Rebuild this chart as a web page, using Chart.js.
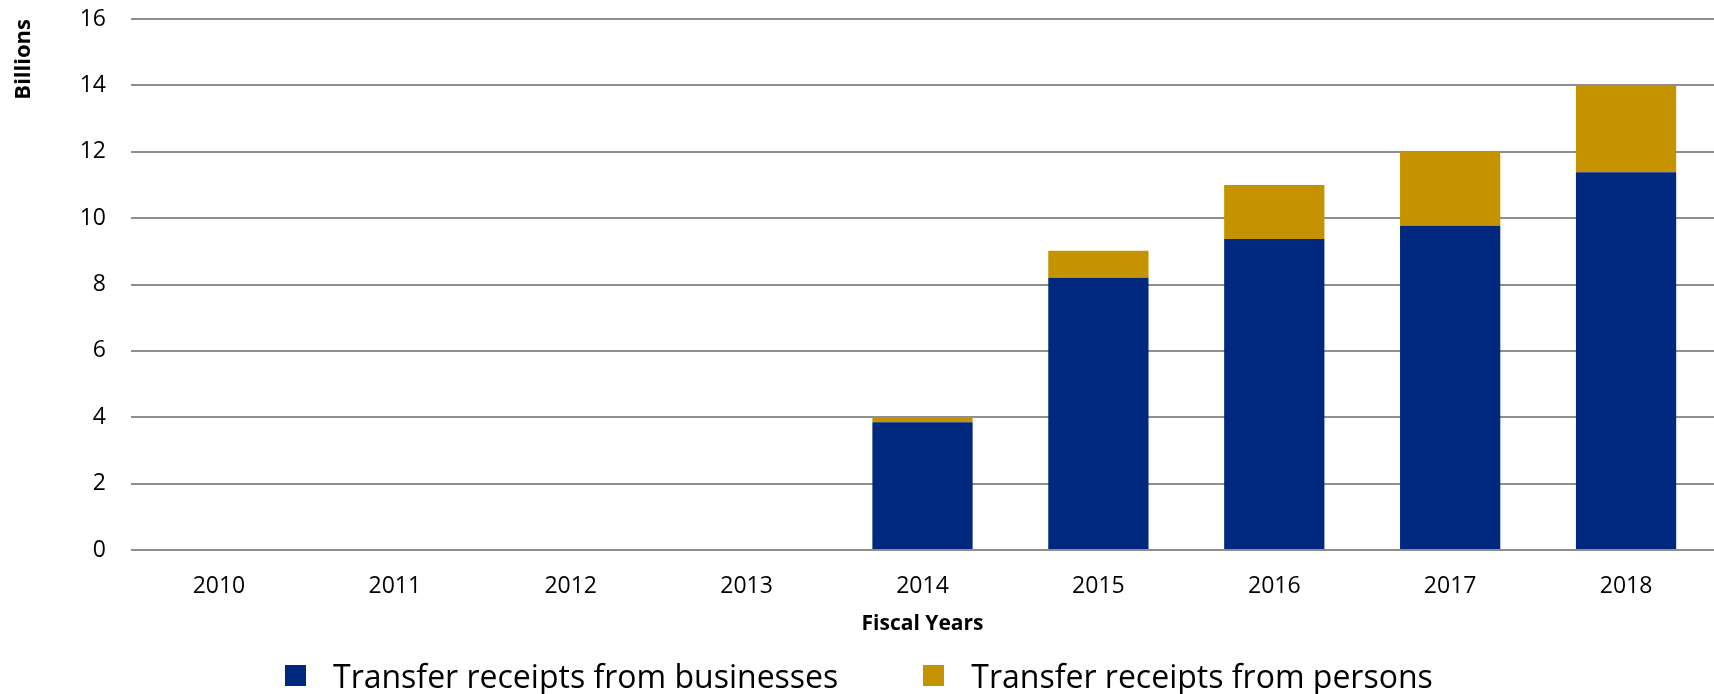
<!DOCTYPE html>
<html>
<head>
<meta charset="utf-8">
<script src="https://cdn.jsdelivr.net/npm/chart.js@4"></script>
<style>
  body { margin: 0; background: #fff; }
  #wrap { position: relative; width: 1714px; height: 694px; }
  #legend { position: absolute; left: 285px; top: 654px; display: flex; align-items: center;
            font-family: "Open Sans", sans-serif; font-size: 32px; color: #000; white-space: nowrap; }
  .item { display: flex; align-items: center; }
  .box { width: 21px; height: 21px; margin-right: 27px; }
</style>
</head>
<body>
<div id="wrap">
  <canvas id="transferChart"></canvas>
  <div id="legend"></div>
</div>
<script>
  const years = ['2010', '2011', '2012', '2013', '2014', '2015', '2016', '2017', '2018'];
  const fromBusinesses = [0, 0, 0, 0, 3.85, 8.2, 9.37, 9.77, 11.38]; // billions
  const fromPersons = [0, 0, 0, 0, 0.16, 0.82, 1.63, 2.23, 2.62];
  const seriesNames = ['Transfer receipts from businesses', 'Transfer receipts from persons'];
  const seriesColors = ['#00287e', '#c59200'];

  const fontFamily = '"Open Sans", sans-serif';

  const data = {
    labels: years,
    datasets: [{
      label: seriesNames[0],
      data: fromBusinesses,
      backgroundColor: seriesColors[0],
    }, {
      label: seriesNames[1],
      data: fromPersons,
      backgroundColor: seriesColors[1],
    }],
  };

  const config = {
    type: 'bar',
    data: data,
    options: {
      responsive: true,
      maintainAspectRatio: false,
      animation: false,
      categoryPercentage: 1,
      barPercentage: 0.57,
      layout: {
        // the original plot runs a few px past the right edge
        padding: { top: 19, right: -5, bottom: 44, left: 0 }
      },
      plugins: {
        legend: { display: false },
        tooltip: { enabled: true }
      },
      scales: {
        x: {
          stacked: true,
          grid: { display: false },
          border: { display: false },
          ticks: { color: '#000', font: { family: fontFamily, size: 23 }, padding: 15, maxRotation: 0 },
          title: {
            display: true,
            text: 'Fiscal Years',
            color: '#000',
            font: { family: fontFamily, size: 21, weight: 'bold' },
            padding: { top: 0, bottom: 13 }
          },
          afterFit: function(scale) { scale.height = 100; }
        },
        y: {
          stacked: true,
          min: 0,
          max: 16,
          ticks: { stepSize: 2, color: '#000', font: { family: fontFamily, size: 23 }, padding: 0 },
          // invisible tick marks keep the labels away from the plot
          grid: { color: '#8e8e8e', lineWidth: 2, drawTicks: true, tickLength: 25, tickColor: 'rgba(0,0,0,0)' },
          border: { display: false },
          title: {
            display: true,
            text: 'Billions',
            align: 'end',
            color: '#000',
            font: { family: fontFamily, size: 22, weight: 'bold' },
            padding: { top: 11, bottom: 0 }
          },
          afterFit: function(scale) { scale.width = 131; }
        }
      }
    },
  };

  // legend below the plot
  const legendEl = document.getElementById('legend');
  seriesNames.forEach(function(name, i) {
    const item = document.createElement('div');
    item.className = 'item';
    if (i > 0) item.style.marginLeft = '85px';
    const box = document.createElement('span');
    box.className = 'box';
    box.style.background = seriesColors[i];
    const txt = document.createElement('span');
    txt.textContent = name;
    item.appendChild(box);
    item.appendChild(txt);
    legendEl.appendChild(item);
  });

  window.onload = function() {
    const ctx = document.getElementById('transferChart').getContext('2d');
    new Chart(ctx, config);
  };
</script>
</body>
</html>
